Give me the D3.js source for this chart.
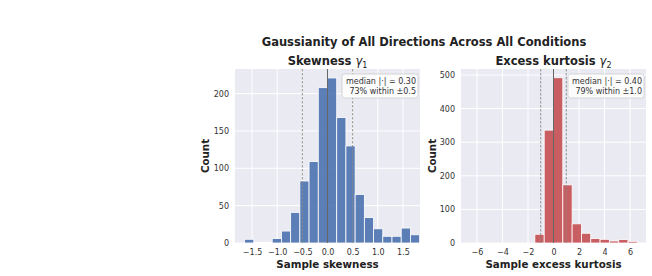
<!DOCTYPE html>
<html>
<head>
<meta charset="utf-8">
<script src="https://cdn.jsdelivr.net/npm/d3@7"></script>
<style>
  body { margin: 0; background: #fff; }
  text { font-family: "DejaVu Sans", sans-serif; }
  .tick text { fill: #333; font-size: 8px; }
  .lbl { font-weight: bold; fill: #222; font-size: 10.3px; }
</style>
</head>
<body>
<div class="chart"></div>
<script>
var svgWidth = 652;
var svgHeight = 276;

// skewness histogram: bin edges are k * width, k = -9 .. 10
var skewBinWidth = 0.1833;
var skewFirstBin = -9;
var skewCounts = [5, 1, 1, 6, 16, 41, 83, 109, 208, 221, 168, 130, 65, 34, 19, 9, 9, 20, 11];
var skewTicks = [-1.5, -1.0, -0.5, 0.0, 0.5, 1.0, 1.5];
var skewYTicks = [0, 50, 100, 150, 200];

// excess kurtosis histogram: bin edges are k * width, k = -2 .. 9
var kurtBinWidth = 0.73;
var kurtFirstBin = -2;
var kurtCounts = [26, 336, 492, 173, 57, 29, 13, 11, 6, 10, 5];
var kurtTicks = [-6, -4, -2, 0, 2, 4, 6];
var kurtYTicks = [0, 100, 200, 300, 400, 500];

var panels = [
  { left: 235, right: 420, xDom: [-1.84, 1.84], yMax: 233,
    counts: skewCounts, bw: skewBinWidth, k0: skewFirstBin,
    ticks: skewTicks, yTicks: skewYTicks, fmt: d3.format(".1f"),
    band: 0.5, color: "#4c72b0",
    title: "Skewness ", sub: "1", xlabel: "Sample skewness",
    legend: ["median |\u00b7| = 0.30", "73% within \u00b10.5"] },
  { left: 461, right: 646, xDom: [-7.25, 7.25], yMax: 518,
    counts: kurtCounts, bw: kurtBinWidth, k0: kurtFirstBin,
    ticks: kurtTicks, yTicks: kurtYTicks, fmt: d3.format("d"),
    band: 1.0, color: "#c44e52",
    title: "Excess kurtosis ", sub: "2", xlabel: "Sample excess kurtosis",
    legend: ["median |\u00b7| = 0.40", "79% within \u00b11.0"] }
];

var plotTop = 69, plotBottom = 243;

var svg = d3.select(".chart")
  .append("svg")
  .attr("width", svgWidth)
  .attr("height", svgHeight);

svg.append("text")
  .attr("x", 424)
  .attr("y", 46)
  .attr("text-anchor", "middle")
  .attr("font-size", "11.5px")
  .attr("font-weight", "bold")
  .attr("fill", "#222")
  .text("Gaussianity of All Directions Across All Conditions");

panels.forEach(function(p) {
  var x = d3.scaleLinear().domain(p.xDom).range([p.left, p.right]);
  var y = d3.scaleLinear().domain([0, p.yMax]).range([plotBottom, plotTop]);
  var g = svg.append("g");

  g.append("rect")
    .attr("x", p.left).attr("y", plotTop)
    .attr("width", p.right - p.left).attr("height", plotBottom - plotTop)
    .attr("fill", "#eaeaf2");

  // grid
  g.selectAll(".vg").data(p.ticks).enter().append("line")
    .attr("x1", function(d) { return x(d); }).attr("x2", function(d) { return x(d); })
    .attr("y1", plotTop).attr("y2", plotBottom)
    .attr("stroke", "#fff").attr("stroke-width", 1);
  g.selectAll(".hg").data(p.yTicks).enter().append("line")
    .attr("x1", p.left).attr("x2", p.right)
    .attr("y1", function(d) { return y(d); }).attr("y2", function(d) { return y(d); })
    .attr("stroke", "#fff").attr("stroke-width", 1);

  // bars
  g.selectAll(".bar").data(p.counts).enter().append("rect")
    .attr("x", function(d, i) { return x((p.k0 + i) * p.bw); })
    .attr("y", function(d) { return y(d); })
    .attr("width", function(d, i) { return x((p.k0 + i + 1) * p.bw) - x((p.k0 + i) * p.bw); })
    .attr("height", function(d) { return plotBottom - y(d); })
    .attr("fill", p.color).attr("fill-opacity", 0.9)
    .attr("stroke", "#fff").attr("stroke-width", 0.8);

  // reference lines
  [-p.band, p.band].forEach(function(v) {
    g.append("line")
      .attr("x1", x(v)).attr("x2", x(v)).attr("y1", plotTop).attr("y2", plotBottom)
      .attr("stroke", "#888").attr("stroke-width", 0.9)
      .attr("stroke-dasharray", "2.5,1.5");
  });
  g.append("line")
    .attr("x1", x(0)).attr("x2", x(0)).attr("y1", plotTop).attr("y2", plotBottom)
    .attr("stroke", "#666").attr("stroke-width", 1);

  // axes
  var xa = g.append("g")
    .attr("transform", "translate(0," + plotBottom + ")")
    .call(d3.axisBottom(x).tickValues(p.ticks).tickSize(0).tickPadding(6)
      .tickFormat(function(d) { return p.fmt(d).replace("-", "\u2212"); }));
  xa.select(".domain").remove();
  var ya = g.append("g")
    .attr("transform", "translate(" + p.left + ",0)")
    .call(d3.axisLeft(y).tickValues(p.yTicks).tickSize(0).tickPadding(6));
  ya.select(".domain").remove();

  // title
  var t = g.append("text")
    .attr("x", (p.left + p.right) / 2).attr("y", 65)
    .attr("text-anchor", "middle")
    .attr("font-size", "11.5px").attr("font-weight", "bold").attr("fill", "#222");
  t.append("tspan").text(p.title);
  t.append("tspan").attr("font-style", "italic").attr("font-weight", "normal").text("\u03b3");
  t.append("tspan").attr("font-weight", "normal").attr("font-size", "8px").attr("dy", 2.5).text(p.sub);

  g.append("text")
    .attr("class", "lbl")
    .attr("x", (p.left + p.right) / 2).attr("y", 268)
    .attr("text-anchor", "middle")
    .text(p.xlabel);

  var yl = p.left - (p.left < 300 ? 26 : 25);
  g.append("text")
    .attr("class", "lbl")
    .attr("transform", "translate(" + yl + "," + ((plotTop + plotBottom) / 2) + ") rotate(-90)")
    .attr("text-anchor", "middle")
    .text("Count");

  // legend box
  var bx = p.right - 78, by = 74;
  g.append("rect")
    .attr("x", bx).attr("y", by).attr("width", 76).attr("height", 24)
    .attr("rx", 2.5)
    .attr("fill", "#fff").attr("fill-opacity", 0.85)
    .attr("stroke", "#ccc").attr("stroke-width", 0.8);
  p.legend.forEach(function(s, i) {
    g.append("text")
      .attr("x", p.right - 4).attr("y", by + 10 + i * 10)
      .attr("text-anchor", "end")
      .attr("font-size", "8px").attr("fill", "#333")
      .text(s);
  });
});
</script>
</body>
</html>
